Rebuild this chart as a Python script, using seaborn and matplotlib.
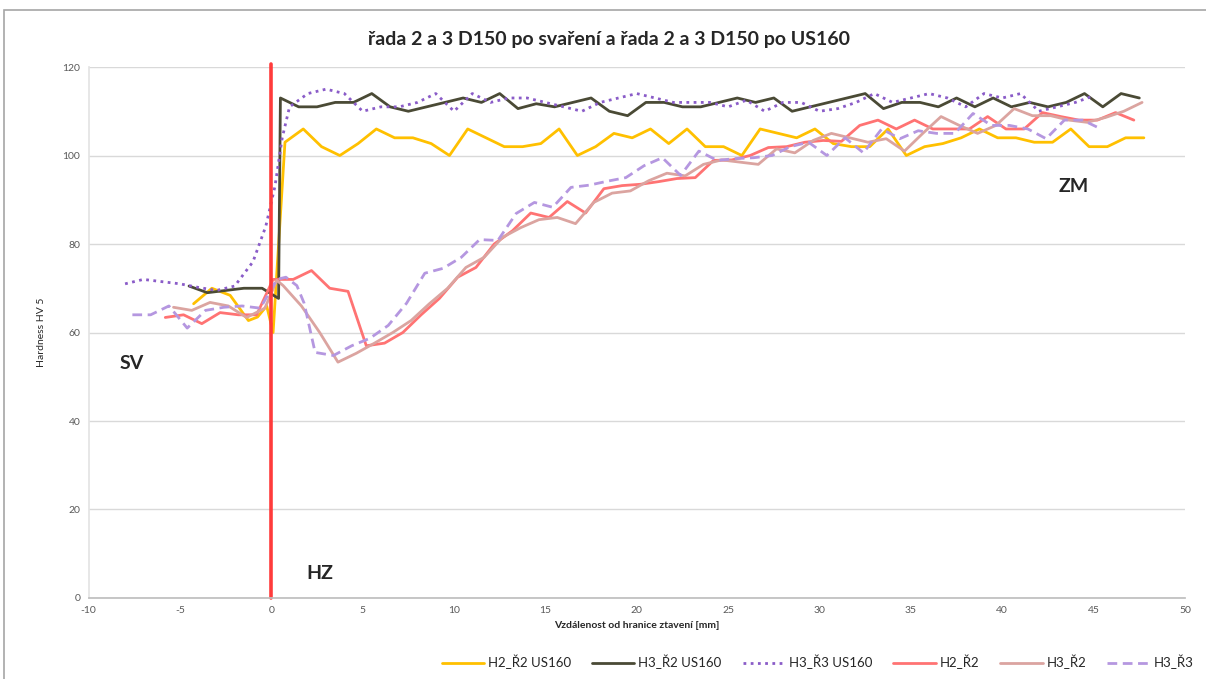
import pandas as pd
import seaborn as sns
import matplotlib.pyplot as plt
from matplotlib.patches import Rectangle

# Data
x_h2r2_us = [-4.25, -3.25, -2.25, -1.25, -0.75, -0.25, 0.1, 0.75, 1.75, 2.75, 3.75, 4.75, 5.75,
             6.75, 7.75, 8.75, 9.75, 10.75, 11.75, 12.75, 13.75, 14.75, 15.75, 16.75, 17.75,
             18.75, 19.75, 20.75, 21.75, 22.75, 23.75, 24.75, 25.75, 26.75, 27.75, 28.75, 29.75,
             30.75, 31.75, 32.75, 33.75, 34.75, 35.75, 36.75, 37.75, 38.75, 39.75, 40.75, 41.75,
             42.75, 43.75, 44.75, 45.75, 46.75, 47.75]
y_h2r2_us = [66.5, 70, 68.4, 62.7, 63.5, 66, 60, 103, 106, 102, 100, 102.7, 106,
             104, 104, 102.7, 100, 106, 104, 102, 102, 102.7, 106, 100, 102,
             105, 104, 106, 102.7, 106, 102, 102, 100, 106, 105, 104, 106,
             102.7, 102, 102, 106, 100, 102, 102.7, 104, 106, 104, 104, 103,
             103, 106, 102, 102, 104, 104]

x_h3r2_us = [-4.5, -3.5, -2.5, -1.5, -0.5, 0.4, 0.5, 1.5, 2.5, 3.5, 4.5, 5.5, 6.5, 7.5, 8.5,
             9.5, 10.5, 11.5, 12.5, 13.5, 14.5, 15.5, 16.5, 17.5, 18.5, 19.5, 20.5, 21.5, 22.5,
             23.5, 24.5, 25.5, 26.5, 27.5, 28.5, 29.5, 30.5, 31.5, 32.5, 33.5, 34.5, 35.5, 36.5,
             37.5, 38.5, 39.5, 40.5, 41.5, 42.5, 43.5, 44.5, 45.5, 46.5, 47.5]
y_h3r2_us = [70.5, 69, 69.5, 70, 70, 67.7, 113, 111, 111, 112, 112, 114, 111, 110, 111,
             112, 113, 112, 114, 110.6, 111.7, 111, 112, 113, 110, 109, 112, 112, 111,
             111, 112, 113, 112, 113, 110, 111, 112, 113, 114, 110.6, 112, 112, 111,
             113, 111, 113, 111, 112, 111, 112, 114, 111, 114, 113]

x_h3r3_us = [-8, -7, -6, -5, -4, -3, -2, -1, -0.3, 0.2, 0.6, 1, 2, 3, 4, 5, 6, 7, 8, 9, 10,
             11, 12, 13, 14, 15, 16, 17, 18, 19, 20, 21, 22, 23, 24, 25, 26, 27, 28, 29, 30,
             31, 32, 33, 34, 35, 36, 37, 38, 39, 40, 41, 42, 43, 44, 45]
y_h3r3_us = [71, 72, 71.5, 71, 70.2, 69.5, 70.5, 76, 84, 93, 104, 111, 114, 115, 114, 110,
             111, 111, 112, 114, 110, 114, 112, 113, 113, 112, 111, 110, 112, 113, 114,
             113, 112, 112, 112, 111, 112.5, 110, 112, 112, 110, 110.6, 112, 114, 112, 113,
             114, 113, 111, 114, 113, 114, 110, 111, 112, 113.5]

x_h2r2 = [-5.8, -4.8, -3.8, -2.8, -1.8, -0.8, 0.1, 1.2, 2.2, 3.2, 4.2, 5.2, 6.2, 7.2, 8.2,
          9.2, 10.2, 11.2, 12.2, 13.2, 14.2, 15.2, 16.2, 17.2, 18.2, 19.2, 20.2, 21.2, 22.2,
          23.2, 24.2, 25.2, 26.2, 27.2, 28.2, 29.2, 30.2, 31.2, 32.2, 33.2, 34.2, 35.2, 36.2,
          37.2, 38.2, 39.2, 40.2, 41.2, 42.2, 43.2, 44.2, 45.2, 46.2, 47.2]
y_h2r2 = [63.4, 64, 62, 64.5, 64, 64, 72, 72, 74, 70, 69.3, 57, 57.6, 60, 64,
          67.7, 72.5, 74.7, 80, 83, 87, 86, 89.6, 87, 92.5, 93.2, 93.5, 94.1, 94.8,
          95, 98.9, 99, 100, 101.8, 102, 103, 103.4, 103.2, 106.8, 108, 106, 108, 106,
          106, 106, 108.8, 106, 106, 109.7, 108.8, 108, 108, 109.7, 108]

x_h3r2 = [-5.35, -4.35, -3.35, -2.35, -1.35, -0.35, 0.3, 0.65, 1.65, 2.65, 3.65, 4.65, 5.65,
          6.65, 7.65, 8.65, 9.65, 10.65, 11.65, 12.65, 13.65, 14.65, 15.65, 16.65, 17.65,
          18.65, 19.65, 20.65, 21.65, 22.65, 23.65, 24.65, 25.65, 26.65, 27.65, 28.65, 29.65,
          30.65, 31.65, 32.65, 33.65, 34.65, 35.65, 36.65, 37.65, 38.65, 39.65, 40.65, 41.65,
          42.65, 43.65, 44.65, 45.65, 46.65, 47.65]
y_h3r2 = [65.7, 65, 66.8, 66, 63.4, 65.5, 71.8, 70.6, 66, 60, 53.3, 55.3, 57.6,
          60, 62.7, 66.5, 70, 74.7, 77, 81.5, 83.7, 85.5, 86, 84.6, 89.4,
          91.5, 92, 94.3, 96, 95.4, 98, 99, 98.5, 98, 101.5, 100.6, 103.4,
          105, 104, 103, 103.8, 101, 105, 108.8, 106.8, 105, 106.8, 110.6, 109,
          109, 108, 107.5, 108.6, 110, 112]

x_h3r3 = [-7.6, -6.6, -5.6, -4.6, -3.6, -2.6, -1.6, -0.6, 0.3, 0.8, 1.4, 1.8, 2.4, 3.4, 4.4,
          5.4, 6.4, 7.4, 8.4, 9.4, 10.4, 11.4, 12.4, 13.4, 14.4, 15.4, 16.4, 17.4, 18.4, 19.4,
          20.4, 21.4, 22.4, 23.4, 24.4, 25.4, 26.4, 27.4, 28.4, 29.4, 30.4, 31.4, 32.4, 33.4,
          34.4, 35.4, 36.4, 37.4, 38.4, 39.4, 40.4, 41.4, 42.4, 43.4, 44.4, 45.4]
y_h3r3 = [64, 64, 66, 61, 65, 65.7, 66, 65.5, 72, 72.5, 70.6, 66.6, 55.5, 54.8, 57,
          58.7, 61.6, 66.6, 73.4, 74.5, 77, 81, 80.8, 86.9, 89.4, 88.3, 92.8, 93.3, 94.2, 95,
          97.7, 99.5, 95.5, 101, 98.9, 99.3, 99.5, 100, 102, 103, 100, 104, 100.6, 106,
          103.8, 105.6, 105, 105, 109.5, 106.8, 106.8, 106, 103.8, 108, 108, 106]

series = [
    ("H2_Ř2 US160", x_h2r2_us, y_h2r2_us, "#ffc000", "-"),
    ("H3_Ř2 US160", x_h3r2_us, y_h3r2_us, "#4a4a35", "-"),
    ("H3_Ř3 US160", x_h3r3_us, y_h3r3_us, "#8a5cc8", (0, (1, 1.6))),
    ("H2_Ř2", x_h2r2, y_h2r2, "#ff7373", "-"),
    ("H3_Ř2", x_h3r2, y_h3r2, "#dba4a0", "-"),
    ("H3_Ř3", x_h3r3, y_h3r3, "#b597e0", (0, (3.5, 2))),
]

# Styles
sns.set_theme(style="white")
plt.rcParams['font.family'] = ['Lato', 'DejaVu Sans']
plt.rcParams['axes.unicode_minus'] = False

fig = plt.figure(figsize=(12.06, 6.79), dpi=100)
ax = fig.add_axes([0.0734, 0.1193, 0.9092, 0.782])

for name, xs, ys, color, ls in series:
    df = pd.DataFrame({"x": xs, "y": ys})
    sns.lineplot(data=df, x="x", y="y", ax=ax, color=color, linestyle=ls,
                 linewidth=2.0, label=name, sort=False, estimator=None)

# fusion boundary
ax.axvline(0, ymin=0, ymax=1.005, color="#ff3b3b", linewidth=2.6, clip_on=False)

ax.set_xlim(-10, 50)
ax.set_ylim(0, 120)
ax.set_xticks(range(-10, 51, 5))
ax.set_yticks(range(0, 121, 20))
ax.tick_params(axis="both", labelsize=7.5, colors="#595959", length=0, pad=6)
ax.yaxis.grid(True, color="#d9d9d9", linewidth=1)
for side in ["top", "right"]:
    ax.spines[side].set_visible(False)
ax.spines["bottom"].set_color("#bfbfbf")
ax.spines["left"].set_color("#e4e4e4")

ax.set_xlabel("Vzdálenost od hranice ztavení [mm]", fontsize=7.5, fontweight="bold", labelpad=4)
ax.set_ylabel("Hardness HV 5", fontsize=7.5, labelpad=12)

ax.text(-8.3, 53, "SV", fontsize=14, fontweight="bold", ha="left", va="center")
ax.text(1.9, 5.5, "HZ", fontsize=14, fontweight="bold", ha="left", va="center")
ax.text(43.1, 93, "ZM", fontsize=14, fontweight="bold", ha="left", va="center")

fig.suptitle("řada 2 a 3 D150 po svaření a řada 2 a 3 D150 po US160",
             x=0.505, y=0.955, fontsize=14, fontweight="bold")

handles, labels = ax.get_legend_handles_labels()
ax.get_legend().remove()
fig.legend(handles, labels, loc="center", bbox_to_anchor=(0.678, 0.025), ncol=6,
           frameon=False, fontsize=9.5, handlelength=3.2, handletextpad=0.3,
           columnspacing=1.6)

# chart frame
fig.patches.append(Rectangle((0.003, -0.01), 1.2, 0.995, transform=fig.transFigure,
                             fill=False, edgecolor="#a6a6a6", linewidth=1.2))

plt.savefig("out.png", dpi=100)
